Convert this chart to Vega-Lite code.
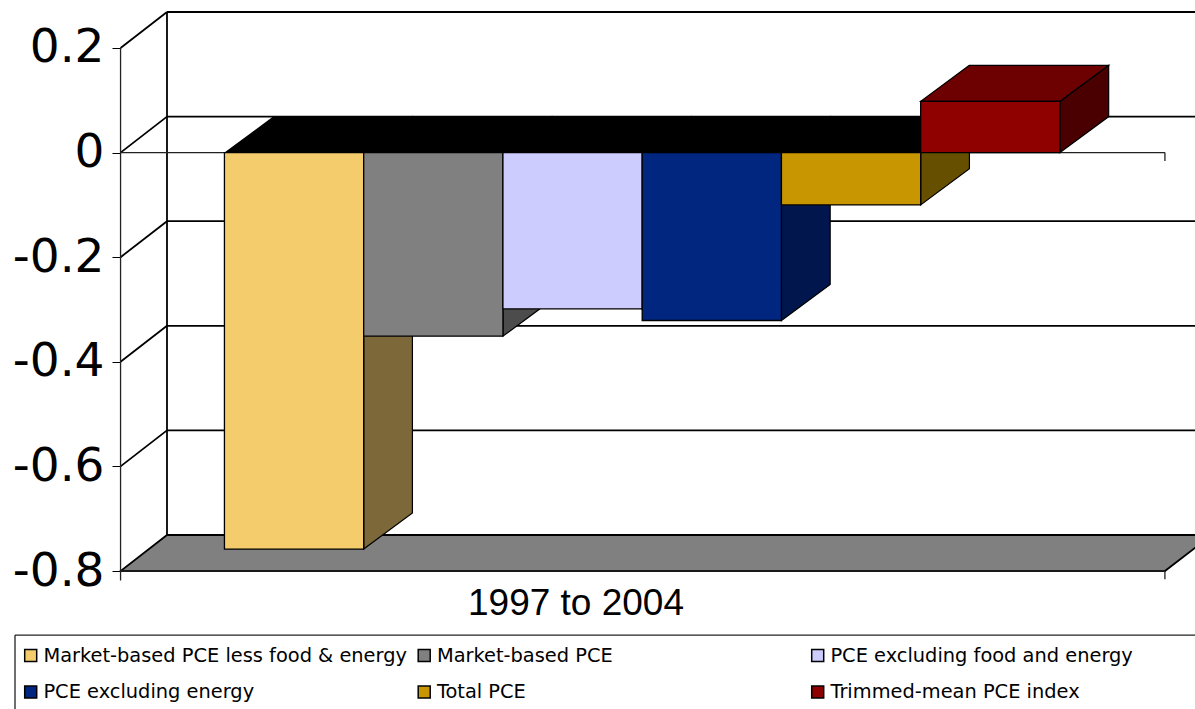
{
"$schema":"https://vega.github.io/schema/vega-lite/v6.json",
"autosize":"none",
"width":1075,"height":559,
"padding":{"left":120,"top":12,"right":0,"bottom":138},
"background":"white",
"config":{"view":{"stroke":null}},
"encoding":{
 "x":{"field":"x","type":"quantitative","scale":{"domain":[0,7.72],"nice":false,"zero":false},
  "axis":{"domain":false,"ticks":false,"labels":false,"grid":false,"title":"1997 to 2004","titleFont":"Liberation Sans","titleFontSize":37,"titleFontWeight":"normal","titleColor":"black","titleX":455.5,"titleY":43,"titleAlign":"center","titleBaseline":"alphabetic"}},
 "y":{"field":"y","type":"quantitative","scale":{"domain":[-0.8,0.2688],"nice":false,"zero":false},
  "axis":{"values":[-0.8,-0.6,-0.4,-0.2,0,0.2],"format":"~g","labelExpr":"replace(datum.label,'\u2212','-')","domain":false,"grid":false,"tickColor":"black","tickSize":8,"tickWidth":1,"labelFont":"DejaVu Sans","labelFontSize":47,"labelColor":"black","labelPadding":8,"title":null}}
},
"layer":[
 {"data":{"values":[{"y":-0.8,"x":0.004,"x2":7.504},{"y":-0.7312,"x":0.3375,"x2":7.84}]},
  "mark":{"type":"area","orient":"horizontal","color":"#808080","stroke":"black","strokeWidth":1.8},
  "encoding":{"x2":{"field":"x2"}}},
 {"data":{"values":[
   {"x":0.3375,"x2":7.84,"y":0.2688,"y2":0.2688},
   {"x":0.3375,"x2":7.84,"y":0.0688,"y2":0.0688},
   {"x":0.3375,"x2":7.84,"y":-0.1312,"y2":-0.1312},
   {"x":0.3375,"x2":7.84,"y":-0.3312,"y2":-0.3312},
   {"x":0.3375,"x2":7.84,"y":-0.5312,"y2":-0.5312},
   {"x":0.3375,"x2":0.3375,"y":0.2688,"y2":-0.7312},
   {"x":0.004,"x2":0.3375,"y":0.2,"y2":0.2688},
   {"x":0.004,"x2":0.3375,"y":0,"y2":0.0688},
   {"x":0.004,"x2":0.3375,"y":-0.2,"y2":-0.1312},
   {"x":0.004,"x2":0.3375,"y":-0.4,"y2":-0.3312},
   {"x":0.004,"x2":0.3375,"y":-0.6,"y2":-0.5312}
  ]},
  "mark":{"type":"rule","color":"black","strokeWidth":1.8},
  "encoding":{"x2":{"field":"x2"},"y2":{"field":"y2"}}},
 {"data":{"values":[
   {"x":0.004,"x2":0.004,"y":0.2,"y2":-0.818},
   {"x":0.004,"x2":7.504,"y":0,"y2":0},
   {"x":0.004,"x2":7.504,"y":-0.8,"y2":-0.8},
   {"x":7.504,"x2":7.504,"y":0,"y2":-0.016},
   {"x":7.504,"x2":7.504,"y":-0.8,"y2":-0.816},
   {"x":-0.754,"x2":7.84,"y":-0.9226,"y2":-0.9226},
   {"x":-0.754,"x2":-0.754,"y":-0.9226,"y2":-1.12}
  ]},
  "mark":{"type":"rule","color":"#222222","strokeWidth":1.3},
  "encoding":{"x2":{"field":"x2"},"y2":{"field":"y2"}}},
 {"data":{"values":[
   {"series":"Market-based PCE less food & energy","x":1.75,"y":0,"y2":-0.758},
   {"series":"Market-based PCE less food & energy","x":2.1,"y":0.0688,"y2":-0.689},
   {"series":"Market-based PCE","x":2.75,"y":0,"y2":-0.351},
   {"series":"Market-based PCE","x":3.1,"y":0.0688,"y2":-0.282},
   {"series":"PCE excluding food and energy","x":3.75,"y":0,"y2":-0.299},
   {"series":"PCE excluding food and energy","x":4.1,"y":0.0688,"y2":-0.23},
   {"series":"PCE excluding energy","x":4.75,"y":0,"y2":-0.321},
   {"series":"PCE excluding energy","x":5.1,"y":0.0688,"y2":-0.252},
   {"series":"Total PCE","x":5.75,"y":0,"y2":-0.1},
   {"series":"Total PCE","x":6.1,"y":0.0688,"y2":-0.031},
   {"series":"Trimmed-mean PCE index","x":6.75,"y":0.098,"y2":0},
   {"series":"Trimmed-mean PCE index","x":7.1,"y":0.1668,"y2":0.0688}
  ]},
  "mark":{"type":"area","stroke":"black","strokeWidth":1.2},
  "encoding":{"y2":{"field":"y2"},"detail":{"field":"series"},
   "color":{"field":"series","type":"nominal","legend":null,
    "scale":{"domain":["Market-based PCE less food & energy","Market-based PCE","PCE excluding food and energy","PCE excluding energy","Total PCE","Trimmed-mean PCE index"],
     "range":["#7C6838","#4C4C4C","#7A7A99","#00164C","#665000","#4A0000"]}}}},
 {"data":{"values":[{"y":0,"x":0.75,"x2":5.75},{"y":0.0688,"x":1.1,"x2":6.1}]},
  "mark":{"type":"area","orient":"horizontal","color":"black"},
  "encoding":{"x2":{"field":"x2"}}},
 {"data":{"values":[{"y":0.098,"x":5.75,"x2":6.75},{"y":0.1668,"x":6.1,"x2":7.1}]},
  "mark":{"type":"area","orient":"horizontal","color":"#6D0000","stroke":"black","strokeWidth":1.2},
  "encoding":{"x2":{"field":"x2"}}},
 {"data":{"values":[
   {"series":"Market-based PCE less food & energy","x":0.75,"x2":1.75,"y":-0.758,"y2":0},
   {"series":"Market-based PCE","x":1.75,"x2":2.75,"y":-0.351,"y2":0},
   {"series":"PCE excluding food and energy","x":2.75,"x2":3.75,"y":-0.299,"y2":0},
   {"series":"PCE excluding energy","x":3.75,"x2":4.75,"y":-0.321,"y2":0},
   {"series":"Total PCE","x":4.75,"x2":5.75,"y":-0.1,"y2":0},
   {"series":"Trimmed-mean PCE index","x":5.75,"x2":6.75,"y":0.098,"y2":0}
  ]},
  "mark":{"type":"rect","stroke":"black","strokeWidth":1.3},
  "encoding":{"x2":{"field":"x2"},"y2":{"field":"y2"},
   "color":{"field":"series","type":"nominal",
    "scale":{"domain":["Market-based PCE less food & energy","PCE excluding energy","Market-based PCE","Total PCE","PCE excluding food and energy","Trimmed-mean PCE index"],
     "range":["#F4CC6B","#002680","#808080","#C89600","#CCCCFF","#8F0000"]},
    "legend":{"title":null,"orient":"none","legendX":-105,"legendY":623,"columns":3,"gridAlign":"all","symbolType":"square","symbolSize":144,"symbolStrokeColor":"black","symbolStrokeWidth":1.5,"labelFont":"DejaVu Sans","labelFontSize":19.4,"labelColor":"black","labelOffset":3,"labelLimit":500,"columnPadding":7.5,"rowPadding":7.5,"clipHeight":29,"padding":6}}}}
],
"resolve":{"scale":{"color":"independent"}}
}
